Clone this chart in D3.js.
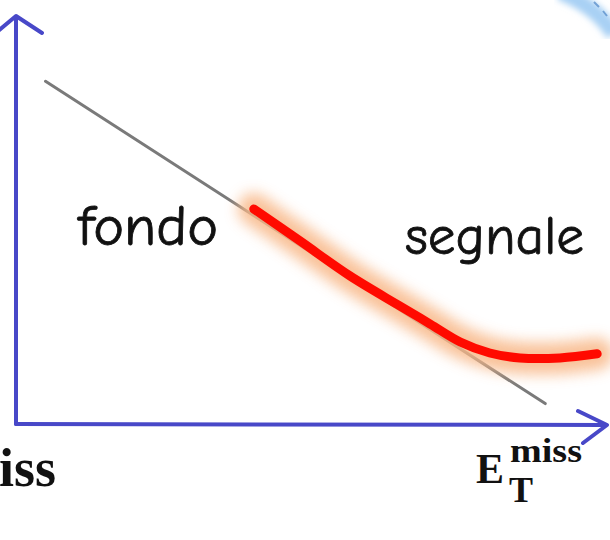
<!DOCTYPE html>
<html>
<head>
<meta charset="utf-8">
<script src="https://cdn.jsdelivr.net/npm/d3@7"></script>
<style>
  html, body { margin: 0; padding: 0; background: #fff; }
</style>
</head>
<body>
<div id="chart"></div>
<script>
'use strict';

// background line (fondo): straight, in axis units
const fondo_x = [5, 89.7]
const fondo_y = [84, 5]

// signal curve (segnale)
const segnale_x = [40.3, 48.1, 56.6, 65.1, 70.2, 75.3, 80.3, 85.4, 92.2, 98.5]
const segnale_y = [52.7, 44.9, 36.3, 28.9, 24.5, 20.1, 17.4, 16.2, 16.2, 17.2]

// labels
const label_fondo = 'fondo'
const label_segnale = 'segnale'

const dimensions = {
  width: 610,
  height: 540,
  origin_x: 16,
  origin_y: 424,
  end_x: 606,
  end_y: 16
}

const svg_el = d3.select('#chart')
  .append('svg')
  .attr('width', dimensions.width)
  .attr('height', dimensions.height)

const defs = svg_el.append('defs')
defs.append('filter')
  .attr('id', 'glow')
  .attr('x', '-20%').attr('y', '-30%')
  .attr('width', '140%').attr('height', '160%')
  .append('feGaussianBlur')
  .attr('stdDeviation', 7)
defs.append('filter')
  .attr('id', 'soft')
  .append('feGaussianBlur')
  .attr('stdDeviation', 3)

const xScale = d3.scaleLinear()
  .domain([0, 100])
  .range([dimensions.origin_x, dimensions.end_x])
const yScale = d3.scaleLinear()
  .domain([0, 100])
  .range([dimensions.origin_y, dimensions.end_y])

// light blue arc in the top right corner
svg_el.append('path')
  .attr('d', 'M 560 -8 Q 596 6 614 34')
  .attr('fill', 'none')
  .attr('stroke', '#a8d0f4')
  .attr('stroke-width', 16)
  .attr('filter', 'url(#soft)')
svg_el.append('path')
  .attr('d', 'M 594 2 L 599 7 M 603 11 L 607 16')
  .attr('fill', 'none')
  .attr('stroke', '#4f86c6')
  .attr('stroke-width', 2)
  .attr('opacity', 0.7)

// axes, hand drawn arrows
const axis_color = '#4848c8'
const axes_g = svg_el.append('g')
  .attr('fill', 'none')
  .attr('stroke', axis_color)
  .attr('stroke-width', 4)
  .attr('stroke-linecap', 'round')
  .attr('stroke-linejoin', 'round')

axes_g.append('path')
  .attr('d', `M ${xScale(0)} ${yScale(0)} L ${xScale(0)} 17 M -2 31 L ${xScale(0)} 16 L 42 33`)
axes_g.append('path')
  .attr('d', `M ${xScale(0)} ${yScale(0)} L 606 ${yScale(0) + 1} M 578 411 L 607 425 L 583 443`)

// fondo
const line_gen = d3.line()
  .x(d => xScale(d[0]))
  .y(d => yScale(d[1]))

const fondo_pts = fondo_x.map((d, i) => [d, fondo_y[i]])
svg_el.append('path')
  .datum(fondo_pts)
  .attr('d', line_gen)
  .attr('fill', 'none')
  .attr('stroke', '#7a7a7a')
  .attr('stroke-width', 3)
  .attr('stroke-linecap', 'round')

// segnale, glow then line
const curve_gen = d3.line()
  .x(d => xScale(d[0]))
  .y(d => yScale(d[1]))
  .curve(d3.curveCatmullRom)
const segnale_pts = segnale_x.map((d, i) => [d, segnale_y[i]])

svg_el.append('path')
  .datum(segnale_pts)
  .attr('d', curve_gen)
  .attr('fill', 'none')
  .attr('stroke', '#f8b888')
  .attr('stroke-width', 32)
  .attr('stroke-linecap', 'round')
  .attr('opacity', 0.85)
  .attr('filter', 'url(#glow)')

svg_el.append('path')
  .datum(segnale_pts)
  .attr('d', curve_gen)
  .attr('fill', 'none')
  .attr('stroke', '#ff0a00')
  .attr('stroke-width', 9)
  .attr('stroke-linecap', 'round')

// labels
const hand_font = '"Comic Sans MS", "Comic Neue", "Open Sans", sans-serif'
svg_el.append('text')
  .attr('x', 78)
  .attr('y', 245)
  .attr('textLength', 140)
  .attr('lengthAdjust', 'spacingAndGlyphs')
  .style('font-family', hand_font)
  .style('font-size', '56px')
  .style('fill', '#111')
  .style('stroke', '#111')
  .style('stroke-width', 0.8)
  .text(label_fondo)

svg_el.append('text')
  .attr('x', 405)
  .attr('y', 254)
  .attr('textLength', 179)
  .attr('lengthAdjust', 'spacingAndGlyphs')
  .style('font-family', hand_font)
  .style('font-size', '54px')
  .style('fill', '#111')
  .style('stroke', '#111')
  .style('stroke-width', 0.8)
  .text(label_segnale)

// axis titles
const serif = '"Liberation Serif", "DejaVu Serif", serif'
svg_el.append('text')
  .attr('x', -1)
  .attr('y', 486)
  .style('font-family', serif)
  .style('font-weight', 'bold')
  .style('font-size', '54px')
  .style('fill', '#111')
  .text('iss')

svg_el.append('text')
  .attr('x', 476)
  .attr('y', 483)
  .style('font-family', serif)
  .style('font-weight', 'bold')
  .style('font-size', '42px')
  .style('fill', '#111')
  .text('E')
svg_el.append('text')
  .attr('x', 509)
  .attr('y', 502)
  .style('font-family', serif)
  .style('font-weight', 'bold')
  .style('font-size', '36px')
  .style('fill', '#111')
  .text('T')
svg_el.append('text')
  .attr('x', 510)
  .attr('y', 462)
  .attr('textLength', 72)
  .attr('lengthAdjust', 'spacingAndGlyphs')
  .style('font-family', serif)
  .style('font-weight', 'bold')
  .style('font-size', '34px')
  .style('fill', '#111')
  .text('miss')
</script>
</body>
</html>
